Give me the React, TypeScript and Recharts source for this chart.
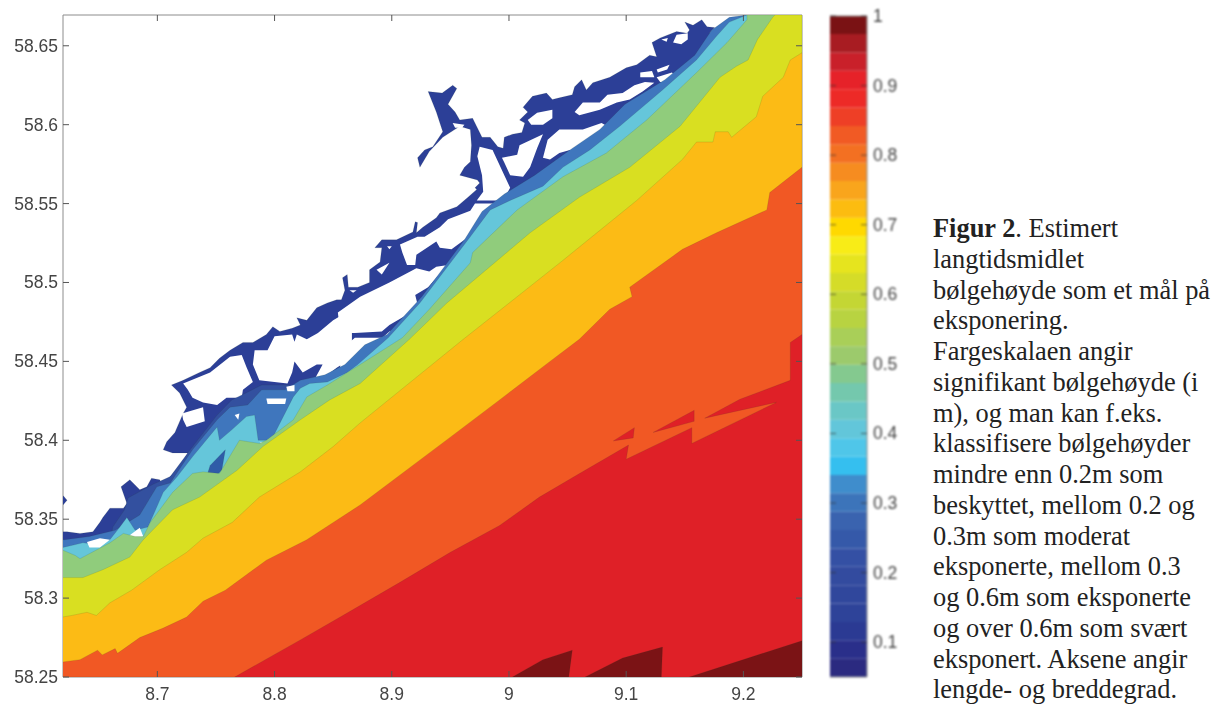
import { ScatterChart, Scatter, XAxis, YAxis, BarChart, Bar } from "recharts";

type Pair = [number, number];

// Contour outlines, as [lon, lat]
const coast: Pair[] = [[8.619,58.342],[8.623,58.342],[8.634,58.341],[8.645,58.342],[8.651,58.348],[8.6535,58.351],[8.6595,58.357],[8.671,58.357],[8.674,58.36],[8.669,58.3705],[8.6765,58.375],[8.685,58.3686],[8.691,58.3705],[8.695,58.376],[8.702,58.375],[8.704,58.372],[8.711,58.377],[8.719,58.383],[8.726,58.392],[8.713,58.392],[8.705,58.394],[8.708,58.399],[8.715,58.405],[8.717,58.4085],[8.722,58.417],[8.725,58.421],[8.719,58.43],[8.712,58.435],[8.722,58.438],[8.736,58.443],[8.745,58.446],[8.753,58.452],[8.762,58.457],[8.773,58.462],[8.7815,58.462],[8.793,58.467],[8.7985,58.472],[8.8045,58.469],[8.815,58.471],[8.822,58.473],[8.819,58.4776],[8.8275,58.476],[8.836,58.484],[8.845,58.487],[8.853,58.489],[8.857,58.489],[8.86,58.495],[8.858,58.503],[8.862,58.505],[8.863,58.497],[8.871,58.497],[8.881,58.5],[8.881,58.508],[8.89,58.513],[8.8915,58.522],[8.8855,58.522],[8.8915,58.527],[8.904,58.527],[8.918,58.532],[8.92,58.5385],[8.922,58.538],[8.921,58.5315],[8.9265,58.535],[8.938,58.541],[8.941,58.544],[8.9555,58.548],[8.965,58.554],[8.9725,58.559],[8.971,58.56],[8.975,58.563],[8.973,58.565],[8.958,58.568],[8.962,58.573],[8.967,58.5765],[8.968,58.587],[8.967,58.597],[8.958,58.599],[8.9435,58.592],[8.932,58.583],[8.924,58.573],[8.922,58.579],[8.928,58.584],[8.935,58.586],[8.9435,58.5955],[8.938,58.608],[8.931,58.621],[8.943,58.62],[8.952,58.625],[8.9555,58.623],[8.948,58.613],[8.954,58.608],[8.958,58.603],[8.969,58.604],[8.973,58.598],[8.977,58.592],[8.984,58.592],[8.9905,58.586],[8.995,58.585],[8.996,58.592],[9.003,58.594],[9.011,58.595],[9.0135,58.601],[9.009,58.603],[9.016,58.608],[9.012,58.611],[9.02,58.618],[9.032,58.62],[9.037,58.616],[9.043,58.617],[9.054,58.619],[9.056,58.624],[9.062,58.6285],[9.066,58.622],[9.0715,58.6266],[9.086,58.63],[9.1,58.636],[9.109,58.638],[9.12,58.644],[9.126,58.643],[9.122,58.652],[9.129,58.655],[9.143,58.659],[9.152,58.658],[9.154,58.66],[9.15,58.665],[9.157,58.663],[9.1645,58.6665],[9.169,58.662],[9.1755,58.6615],[9.171,58.658],[9.186,58.665],[9.1925,58.6665],[9.203,58.6695],[9.25,58.6695],[9.25,58.25],[8.619,58.25]];
const coastDot: Pair[] = [[8.619,58.3655],[8.623,58.362],[8.619,58.3585]];

const bayA: Pair[] = [[8.722,58.436],[8.734,58.4396],[8.745,58.443],[8.762,58.453],[8.772,58.454],[8.776,58.4465],[8.7815,58.437],[8.773,58.432],[8.772,58.427],[8.759,58.427],[8.751,58.4224],[8.739,58.424],[8.73,58.427],[8.726,58.432]];
const bayRing: Pair[] = [[8.721,58.417],[8.739,58.421],[8.7405,58.412],[8.725,58.4085],[8.722,58.413]];
const bayB: Pair[] = [[8.783,58.457],[8.794,58.457],[8.8,58.466],[8.815,58.467],[8.817,58.4624],[8.819,58.467],[8.8275,58.464],[8.837,58.468],[8.85,58.476],[8.866,58.483],[8.866,58.452],[8.853,58.446],[8.83,58.433],[8.841,58.448],[8.836,58.448],[8.824,58.443],[8.817,58.45],[8.815,58.443],[8.811,58.436],[8.787,58.438],[8.7815,58.448]];
const bayMain: Pair[] = [[8.854,58.481],[8.873,58.491],[8.898,58.5],[8.921,58.509],[8.932,58.507],[8.938,58.51],[8.948,58.511],[8.938,58.503],[8.931,58.497],[8.92,58.492],[8.922,58.486],[8.913,58.4795],[8.898,58.473],[8.8915,58.469],[8.8685,58.468],[8.856,58.468]];
const bayTip: Pair[] = [[8.8685,58.465],[8.892,58.465],[8.898,58.469],[8.917,58.475],[8.92,58.4776],[8.911,58.467],[8.894,58.457],[8.873,58.45],[8.856,58.443],[8.856,58.457]];
const bayMid: Pair[] = [[8.907,58.524],[8.922,58.529],[8.928,58.529],[8.941,58.535],[8.948,58.54],[8.967,58.5454],[8.971,58.55],[8.99,58.55],[8.984,58.544],[8.978,58.5366],[8.969,58.53],[8.962,58.527],[8.951,58.521],[8.941,58.522],[8.938,58.526],[8.93,58.522],[8.921,58.5175],[8.92,58.511],[8.913,58.511],[8.909,58.519]];
const bayStem: Pair[] = [[8.975,58.586],[8.986,58.584],[8.996,58.568],[9.001,58.56],[8.995,58.552],[8.9725,58.552],[8.978,58.5575],[8.977,58.568],[8.973,58.58]];
const bayNorth: Pair[] = [[8.994,58.579],[9.007,58.581],[9.009,58.587],[9.029,58.594],[9.024,58.585],[9.018,58.573],[9.012,58.567],[9.001,58.568],[8.996,58.576]];
const bayEast: Pair[] = [[9.029,58.579],[9.033,58.5905],[9.043,58.597],[9.063,58.597],[9.079,58.601],[9.084,58.599],[9.075,58.594],[9.067,58.5885],[9.06,58.584],[9.052,58.584],[9.043,58.582],[9.035,58.578]];
const holeOval: Pair[] = [[9.016,58.603],[9.024,58.6076],[9.037,58.6095],[9.037,58.604],[9.029,58.6],[9.019,58.6]];
const holeLong: Pair[] = [[9.056,58.608],[9.063,58.614],[9.0775,58.614],[9.084,58.619],[9.097,58.62],[9.107,58.625],[9.116,58.627],[9.124,58.6266],[9.114,58.621],[9.103,58.616],[9.092,58.614],[9.0775,58.6095],[9.06,58.606]];
const holeA: Pair[] = [[9.112,58.633],[9.122,58.634],[9.124,58.63],[9.116,58.63],[9.112,58.63]];
const holeB: Pair[] = [[9.126,58.635],[9.137,58.638],[9.135,58.635],[9.127,58.633]];
const holeC: Pair[] = [[9.126,58.63],[9.139,58.633],[9.143,58.63],[9.137,58.627],[9.129,58.627]];
const holeD: Pair[] = [[9.143,58.657],[9.1525,58.658],[9.1525,58.654],[9.147,58.651],[9.14,58.652]];
const holeE: Pair[] = [[9.13,58.654],[9.1355,58.655],[9.1345,58.6526]];
const holeF: Pair[] = [[8.952,58.601],[8.962,58.6],[8.96,58.598],[8.954,58.598]];
const holeG: Pair[] = [[8.896,58.523],[8.9,58.523],[8.898,58.521]];
const holeH: Pair[] = [[8.887,58.508],[8.898,58.5125],[8.8915,58.505]];
const holeI: Pair[] = [[8.864,58.495],[8.87,58.495],[8.867,58.4935]];

const deepBlue: Pair[] = [[8.662,58.345],[8.672,58.356],[8.675,58.3635],[8.696,58.372],[8.711,58.377],[8.728,58.394],[8.751,58.416],[8.7635,58.4256],[8.789,58.435],[8.813,58.435],[8.822,58.4],[8.6595,58.334]];
const midBlue: Pair[] = [[8.621,58.337],[8.642,58.339],[8.664,58.343],[8.685,58.3527],[8.6995,58.3705],[8.711,58.373],[8.73,58.394],[8.751,58.413],[8.762,58.421],[8.777,58.4224],[8.789,58.432],[8.809,58.432],[8.822,58.438],[8.843,58.4415],[8.86,58.448],[8.877,58.4605],[8.896,58.467],[8.9256,58.491],[8.962,58.527],[8.977,58.545],[8.996,58.556],[9.022,58.568],[9.052,58.584],[9.0775,58.597],[9.099,58.613],[9.133,58.6285],[9.1585,58.644],[9.173,58.66],[9.188,58.668],[9.203,58.6695],[9.25,58.6695],[9.25,58.25],[8.619,58.25],[8.619,58.337]];
const teal: Pair[] = [[8.619,58.332],[8.6365,58.335],[8.648,58.334],[8.6595,58.337],[8.668,58.345],[8.674,58.351],[8.681,58.343],[8.692,58.345],[8.705,58.367],[8.717,58.377],[8.73,58.3895],[8.751,58.4085],[8.753,58.4],[8.7635,58.4066],[8.776,58.415],[8.783,58.416],[8.786,58.4],[8.793,58.4],[8.7985,58.402],[8.816,58.4275],[8.822,58.433],[8.83,58.436],[8.845,58.437],[8.862,58.443],[8.871,58.448],[8.897,58.465],[8.924,58.487],[8.967,58.529],[8.984,58.546],[9.001,58.552],[9.029,58.561],[9.046,58.573],[9.069,58.584],[9.0945,58.599],[9.131,58.622],[9.16,58.641],[9.177,58.656],[9.188,58.665],[9.203,58.6695],[9.25,58.6695],[9.25,58.25],[8.619,58.25]];
const slit: Pair[] = [[8.739,58.37],[8.745,58.384],[8.758,58.394],[8.755,58.381],[8.7465,58.375]];
const speckA: Pair[] = [[8.793,58.4265],[8.81,58.4265],[8.809,58.423],[8.794,58.423]];
const speckB: Pair[] = [[8.766,58.416],[8.77,58.417],[8.769,58.413]];
const speckC: Pair[] = [[8.787,58.399],[8.796,58.398],[8.7925,58.3965]];
const speckD: Pair[] = [[8.675,58.339],[8.685,58.3445],[8.688,58.339],[8.678,58.337]];
const speckE: Pair[] = [[8.64,58.3356],[8.651,58.338],[8.6595,58.337],[8.651,58.332],[8.642,58.332]];
const speckF: Pair[] = [[8.81,58.434],[8.817,58.435],[8.817,58.431],[8.811,58.431]];

const green: Pair[] = [[8.619,58.3305],[8.63,58.327],[8.634,58.325],[8.6595,58.335],[8.671,58.341],[8.681,58.339],[8.688,58.339],[8.694,58.348],[8.713,58.367],[8.73,58.379],[8.739,58.38],[8.753,58.379],[8.77,58.4],[8.787,58.398],[8.793,58.4],[8.816,58.413],[8.8275,58.4275],[8.845,58.435],[8.873,58.448],[8.909,58.465],[8.932,58.483],[8.967,58.5125],[8.969,58.519],[9.007,58.546],[9.046,58.567],[9.083,58.582],[9.1175,58.603],[9.16,58.633],[9.186,58.652],[9.203,58.6665],[9.203,58.6695],[9.25,58.6695],[9.25,58.25],[8.619,58.25]];
const yellow: Pair[] = [[8.619,58.313],[8.6365,58.313],[8.6535,58.318],[8.6765,58.326],[8.688,58.337],[8.713,58.356],[8.736,58.364],[8.768,58.381],[8.79,58.396],[8.822,58.413],[8.847,58.4256],[8.873,58.436],[8.915,58.464],[8.947,58.487],[9.018,58.5315],[9.06,58.554],[9.103,58.573],[9.146,58.599],[9.18,58.63],[9.194,58.637],[9.204,58.641],[9.212,58.654],[9.225,58.668],[9.227,58.6695],[9.25,58.6695],[9.25,58.25],[8.619,58.25]];
const gold: Pair[] = [[8.619,58.288],[8.627,58.289],[8.64,58.291],[8.648,58.289],[8.6595,58.297],[8.678,58.305],[8.702,58.318],[8.725,58.329],[8.739,58.338],[8.764,58.348],[8.787,58.364],[8.822,58.38],[8.85,58.396],[8.873,58.411],[8.961,58.464],[9.007,58.491],[9.046,58.514],[9.109,58.552],[9.148,58.578],[9.16,58.589],[9.174,58.589],[9.176,58.5955],[9.187,58.5955],[9.19,58.592],[9.211,58.605],[9.2165,58.618],[9.234,58.63],[9.24,58.641],[9.25,58.6456],[9.25,58.25],[8.619,58.25]];
const orange: Pair[] = [[8.619,58.2595],[8.634,58.261],[8.649,58.267],[8.653,58.264],[8.664,58.268],[8.666,58.265],[8.685,58.275],[8.705,58.281],[8.725,58.288],[8.739,58.298],[8.758,58.305],[8.793,58.324],[8.8275,58.337],[8.873,58.359],[8.95,58.402],[8.992,58.4256],[9.035,58.45],[9.06,58.464],[9.086,58.483],[9.105,58.491],[9.103,58.497],[9.148,58.521],[9.177,58.5315],[9.22,58.546],[9.2225,58.557],[9.25,58.573],[9.25,58.25],[8.619,58.25]];
const red: Pair[] = [[8.766,58.25],[8.822,58.2735],[8.856,58.288],[8.907,58.31],[8.95,58.329],[8.992,58.346],[9.026,58.364],[9.058,58.378],[9.102,58.397],[9.1,58.388],[9.156,58.408],[9.156,58.398],[9.228,58.424],[9.167,58.414],[9.197,58.426],[9.24,58.438],[9.24,58.462],[9.25,58.467],[9.25,58.25]];
const redWedgeA: Pair[] = [[9.158,58.419],[9.158,58.412],[9.123,58.405]];
const redWedgeB: Pair[] = [[9.107,58.408],[9.106,58.4015],[9.089,58.3996]];
const maroonA: Pair[] = [[9.003,58.25],[9.029,58.261],[9.054,58.267],[9.051,58.25]];
const maroonB: Pair[] = [[9.065,58.25],[9.097,58.262],[9.131,58.269],[9.13,58.25]];
const maroonC: Pair[] = [[9.154,58.25],[9.25,58.273],[9.25,58.25]];

const DARK = "#2c3f97";
const WHITE = "#ffffff";
const layers: Array<[Pair[], string]> = [
  [coast, DARK], [coastDot, DARK],
  [bayA, WHITE], [bayRing, WHITE], [bayB, WHITE], [bayMain, WHITE], [bayTip, WHITE], [bayMid, WHITE], [bayStem, WHITE],
  [bayNorth, WHITE], [bayEast, WHITE], [holeOval, WHITE], [holeLong, WHITE], [holeA, WHITE], [holeB, WHITE],
  [holeC, WHITE], [holeD, WHITE], [holeE, WHITE], [holeF, WHITE], [holeG, WHITE], [holeH, WHITE], [holeI, WHITE],
  [deepBlue, "#33509f"], [midBlue, "#3f76bd"], [teal, "#65c6da"], [slit, "#2f5ca8"],
  [speckA, WHITE], [speckB, WHITE], [speckC, WHITE], [speckD, WHITE], [speckE, WHITE], [speckF, WHITE],
  [green, "#90cc7c"], [yellow, "#d9df21"], [gold, "#fcbb15"], [orange, "#f15824"],
  [red, "#df2027"], [redWedgeA, "#df2027"], [redWedgeB, "#df2027"],
  [maroonA, "#7b1315"], [maroonB, "#7b1315"], [maroonC, "#7b1315"],
];

const lonTicks = [8.7, 8.8, 8.9, 9, 9.1, 9.2];
const latTicks = [58.25, 58.3, 58.35, 58.4, 58.45, 58.5, 58.55, 58.6, 58.65];
const barTicks = [0.1, 0.2, 0.3, 0.4, 0.5, 0.6, 0.7, 0.8, 0.9, 1];

// Colour scale, bottom to top
const barColors = ["#2b2a80","#2a2f8a","#2b3a93","#2e4399","#30479c","#334b9f","#3450a4","#3559a9","#3a63af","#3c74ba","#3f8dcc","#35bfef","#4fc6e9","#62c6da","#6ac7c6","#74c8ad","#84c98f","#9cca6c","#a9cf58","#b8d341","#c4d634","#d5dc28","#e6e41e","#f8ec17","#ffd900","#fcbc10","#f9a51c","#f68c20","#f37022","#f15a24","#ee3f26","#ed2a27","#e62229","#c9202a","#a81c22","#7a1214"];
const barSteps = [0.0764,0.0264,0.0264,0.0264,0.0264,0.0264,0.0264,0.0264,0.0264,0.0264,0.0264,0.0264,0.0264,0.0264,0.0264,0.0264,0.0264,0.0264,0.0264,0.0264,0.0264,0.0264,0.0264,0.0264,0.0264,0.0264,0.0264,0.0264,0.0264,0.0264,0.0264,0.0264,0.0264,0.0264,0.0264,0.0264];
const barRow = Object.fromEntries([["name", "scale"], ...barSteps.map((v, i) => [`s${i}`, v])]);

const captionLines = ["bølgehøyde som et mål på","eksponering.","Fargeskalaen angir","signifikant bølgehøyde (i","m), og man kan f.eks.","klassifisere bølgehøyder","mindre enn 0.2m som","beskyttet, mellom 0.2 og","0.3m som moderat","eksponerte, mellom 0.3","og 0.6m som eksponerte","og over 0.6m som svært","eksponert. Aksene angir","lengde- og breddegrad."];

const FRAME = "#8c8c8c";
const TICK = "#555555";
const labelStyle = { fontFamily: "'Liberation Sans', Arial, sans-serif", fontSize: 17.5, fill: "#444444" };

function toPoints(pairs: Pair[]) {
  return pairs.map(([lon, lat]) => ({ lon, lat }));
}

function polygonLine(fill: string) {
  return (props: any) => (
    <path
      d={"M" + props.points.map((p: any) => `${p.x},${p.y}`).join("L") + "Z"}
      fill={fill}
      stroke={fill === WHITE ? "none" : "rgba(40,60,40,0.18)"}
      strokeWidth={0.7}
    />
  );
}

const noDot = () => <g />;

const bottomTick = ({ x, y, payload }: any) => (
  <g>
    <line x1={x} x2={x} y1={y} y2={y - 6} stroke={TICK} />
    <text x={x} y={y + 23} textAnchor="middle" {...labelStyle}>{payload.value}</text>
  </g>
);
const topTick = ({ x, y }: any) => <line x1={x} x2={x} y1={y} y2={y + 6} stroke={TICK} />;
const leftTick = ({ x, y, payload }: any) => (
  <g>
    <line x1={x} x2={x + 6} y1={y} y2={y} stroke={TICK} />
    <text x={x - 5} y={y + 6} textAnchor="end" {...labelStyle}>{payload.value}</text>
  </g>
);
const rightTick = ({ x, y }: any) => <line x1={x} x2={x - 6} y1={y} y2={y} stroke={TICK} />;
const scaleTick = ({ x, y, payload }: any) => (
  <g>
    <line x1={x} x2={x - 6} y1={y} y2={y} stroke="#333" strokeOpacity={0.7} />
    <line x1={x - 37} x2={x - 31} y1={y} y2={y} stroke="#333" strokeOpacity={0.7} />
    <text x={x + 6} y={y + 6} {...labelStyle}>{payload.value}</text>
  </g>
);

export default function App() {
  return (
    <div style={{ position: "absolute", left: 0, top: 0, width: 1222, height: 704, background: "#fff", overflow: "hidden" }}>
      <div style={{ position: "absolute", left: 0, top: 0, filter: "blur(0.6px)" }}>
        <ScatterChart width={820} height={704} margin={{ top: 0, right: 0, bottom: 0, left: 0 }}>
          <XAxis type="number" dataKey="lon" domain={[8.6195, 9.25]} ticks={lonTicks} allowDataOverflow height={27} stroke={FRAME} tickLine={false} tickSize={0} tickMargin={0} tick={bottomTick} interval={0} />
          <XAxis xAxisId="top" type="number" dataKey="lon" orientation="top" domain={[8.6195, 9.25]} ticks={lonTicks} allowDataOverflow height={15} stroke={FRAME} tickLine={false} tickSize={0} tickMargin={0} tick={topTick} interval={0} />
          <YAxis type="number" dataKey="lat" domain={[58.25, 58.6695]} ticks={latTicks} allowDataOverflow width={63} stroke={FRAME} tickLine={false} tickSize={0} tickMargin={0} tick={leftTick} interval={0} />
          <YAxis yAxisId="right" type="number" dataKey="lat" orientation="right" domain={[58.25, 58.6695]} ticks={latTicks} allowDataOverflow width={18} stroke={FRAME} tickLine={false} tickSize={0} tickMargin={0} tick={rightTick} interval={0} />
          {layers.map(([pairs, fill], i) => (
            <Scatter
              key={i}
              data={toPoints(pairs)}
              fill={fill}
              line={polygonLine(fill)}
              shape={noDot}
              isAnimationActive={false}
            />
          ))}
        </ScatterChart>
      </div>
      <div style={{ position: "absolute", left: 830, top: 0, filter: "blur(1px)" }}>
        <BarChart width={80} height={704} data={[barRow]} barCategoryGap={0} margin={{ top: 0, right: 0, bottom: 0, left: 0 }}>
          <XAxis dataKey="name" height={27} tick={false} tickLine={false} stroke={FRAME} />
          <XAxis xAxisId="top" dataKey="name" orientation="top" height={16} tick={false} tickLine={false} stroke={FRAME} />
          <YAxis yAxisId="left" width={0} domain={[0.05, 1]} tick={false} tickLine={false} stroke={FRAME} />
          <YAxis orientation="right" width={43} domain={[0.05, 1]} ticks={barTicks} allowDataOverflow stroke={FRAME} tickLine={false} tickSize={0} tickMargin={0} tick={scaleTick} interval={0} />
          {barColors.map((c, i) => (
            <Bar key={i} dataKey={`s${i}`} stackId="scale" fill={c} isAnimationActive={false} />
          ))}
        </BarChart>
      </div>
      <div style={{ position: "absolute", left: 933, top: 213, fontFamily: "'Liberation Serif', 'Times New Roman', serif", fontSize: 26.4, lineHeight: "30.75px", color: "#222", whiteSpace: "nowrap" }}>
        <div><b>Figur 2</b>. Estimert</div>
        <div>langtidsmidlet</div>
        {captionLines.map((line) => (
          <div key={line}>{line}</div>
        ))}
      </div>
    </div>
  );
}
